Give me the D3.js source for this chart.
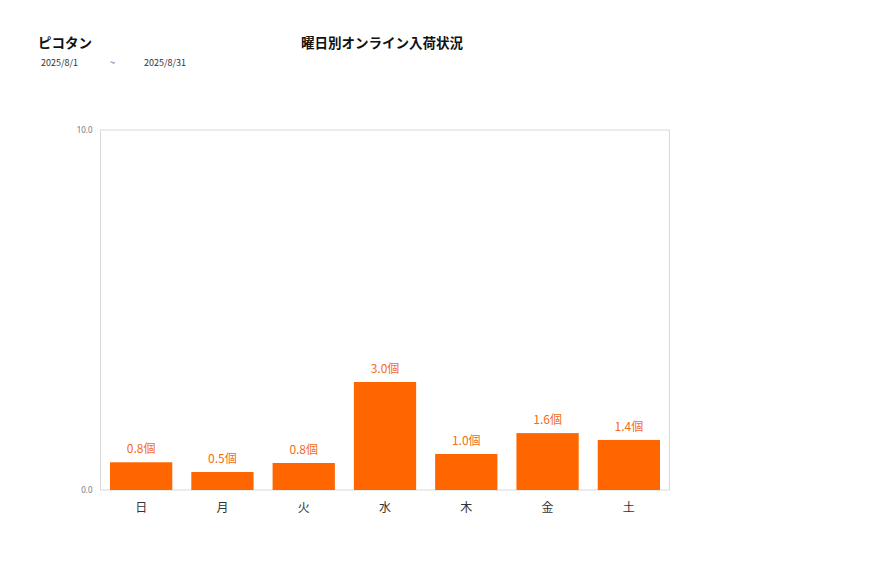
<!DOCTYPE html>
<html><head><meta charset="utf-8">
<script src="https://cdn.jsdelivr.net/npm/d3@7"></script>
<style>body{margin:0;background:#fff;}svg{display:block;font-family:"Noto Sans CJK JP","Noto Sans",sans-serif;}</style>
</head><body>
<svg id="c" width="877" height="578"></svg>
<script>
const categories = ["日","月","火","水","木","金","土"];
const values = [0.77, 0.5, 0.75, 3.0, 1.0, 1.58, 1.39];
const yTicks = [0, 10];
const shopName = "ピコタン";
const chartTitle = "曜日別オンライン入荷状況";
const dateFrom = "2025/8/1", dateSep = "~", dateTo = "2025/8/31";
const unit = "個";

const svg = d3.select("#c");
const m = {l:100.5, r:669.5, t:130, b:490};
const x = d3.scaleBand().domain(categories).range([m.l, m.r]).paddingInner(0.234).paddingOuter(0.117);
const y = d3.scaleLinear().domain([0, 10]).range([m.b, m.t]);

svg.append("text").attr("x",38).attr("y",48).attr("font-size",13.5).attr("font-weight","bold").attr("fill","#111").text(shopName);
svg.append("text").attr("x",382).attr("y",48).attr("text-anchor","middle").attr("font-size",13.5).attr("font-weight","bold").attr("fill","#111").text(chartTitle);
svg.append("text").attr("x",41).attr("y",66).attr("font-size",9).attr("fill","#333").text(dateFrom);
svg.append("text").attr("x",110).attr("y",66).attr("font-size",9).attr("fill","#333").text(dateSep);
svg.append("text").attr("x",144).attr("y",66).attr("font-size",9).attr("fill","#333").text(dateTo);

// frame
svg.append("rect").attr("x",m.l).attr("y",m.t).attr("width",m.r-m.l).attr("height",m.b-m.t)
  .attr("fill","none").attr("stroke","#d9d9d9").attr("stroke-width",1);

// y axis labels
const yAxis = d3.axisLeft(y).tickValues(yTicks).tickFormat(d3.format(".1f")).tickSize(0).tickPadding(8);
const ya = svg.append("g").attr("transform",`translate(${m.l},0)`).call(yAxis);
ya.select(".domain").remove();
ya.selectAll("text").attr("font-size",8).attr("fill","#777").attr("font-family","'Noto Sans','Noto Sans CJK JP',sans-serif");

// bars
svg.append("g").selectAll("rect").data(values).join("rect")
  .attr("x",(d,i)=>x(categories[i])).attr("width",x.bandwidth())
  .attr("y",d=>y(d)).attr("height",d=>y(0)-y(d)).attr("fill","#ff6600");

// value labels
svg.append("g").selectAll("text").data(values).join("text")
  .attr("x",(d,i)=>x(categories[i])+x.bandwidth()/2).attr("y",d=>y(d)-9)
  .attr("text-anchor","middle").attr("font-size",12).attr("fill","#f26c1a")
  .text(d=>d.toFixed(1)+unit);

// x axis
const xAxis = d3.axisBottom(x).tickSize(0).tickPadding(13);
const xa = svg.append("g").attr("transform",`translate(0,${m.b})`).call(xAxis);
xa.select(".domain").remove();
xa.selectAll("text").attr("font-size",12).attr("fill","#333").attr("font-family","'Noto Sans CJK JP',sans-serif");
</script>
</body></html>
